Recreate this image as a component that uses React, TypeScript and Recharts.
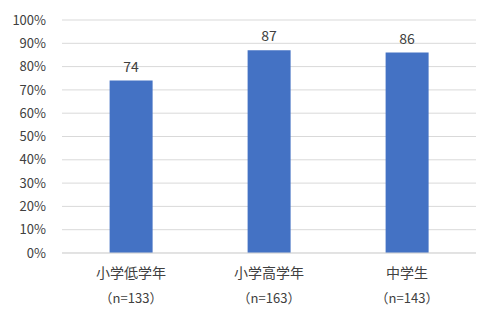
import { BarChart, Bar, XAxis, YAxis, CartesianGrid, LabelList } from "recharts"

const categories = ["小学低学年", "小学高学年", "中学生"]
const sampleSizes = ["（n=133）", "（n=163）", "（n=143）"]
const values = [74, 87, 86]
const yTicks = [0, 10, 20, 30, 40, 50, 60, 70, 80, 90, 100]

const data = categories.map((name, i) => ({ name, n: sampleSizes[i], value: values[i] }))

const font = "'Noto Sans CJK JP', 'Noto Sans', sans-serif"

function CategoryTick({ x, y, payload, index }: any) {
  return (
    <g transform={`translate(${x},${y})`}>
      <text x={0} y={0} dy={17} textAnchor="middle" fontSize={14} fill="#404040" fontFamily={font}>
        {payload.value}
      </text>
      <text x={0} y={0} dy={42} textAnchor="middle" fontSize={13} fill="#404040" fontFamily={font}>
        {sampleSizes[index]}
      </text>
    </g>
  )
}

export default function App() {
  return (
    <div style={{ position: "fixed", top: 0, left: 0, background: "#fff" }}>
      <BarChart width={491} height={314} data={data} margin={{ top: 20, right: 15, bottom: 6, left: 0 }} barCategoryGap="34.5%">
        <CartesianGrid vertical={false} stroke="#d9d9d9" />
        <XAxis
          dataKey="name"
          axisLine={{ stroke: "#d9d9d9" }}
          tickLine={false}
          height={55}
          interval={0}
          tick={<CategoryTick />}
        />
        <YAxis
          domain={[0, 100]}
          ticks={yTicks}
          width={62}
          axisLine={false}
          tickLine={false}
          tickMargin={10}
          tickFormatter={(v) => `${v}%`}
          tick={{ fontSize: 13, fill: "#404040", fontFamily: font }}
        />
        <Bar dataKey="value" fill="#4472c4" isAnimationActive={false}>
          <LabelList dataKey="value" position="top" offset={9} fontSize={14} fill="#404040" fontFamily={font} />
        </Bar>
      </BarChart>
    </div>
  )
}
